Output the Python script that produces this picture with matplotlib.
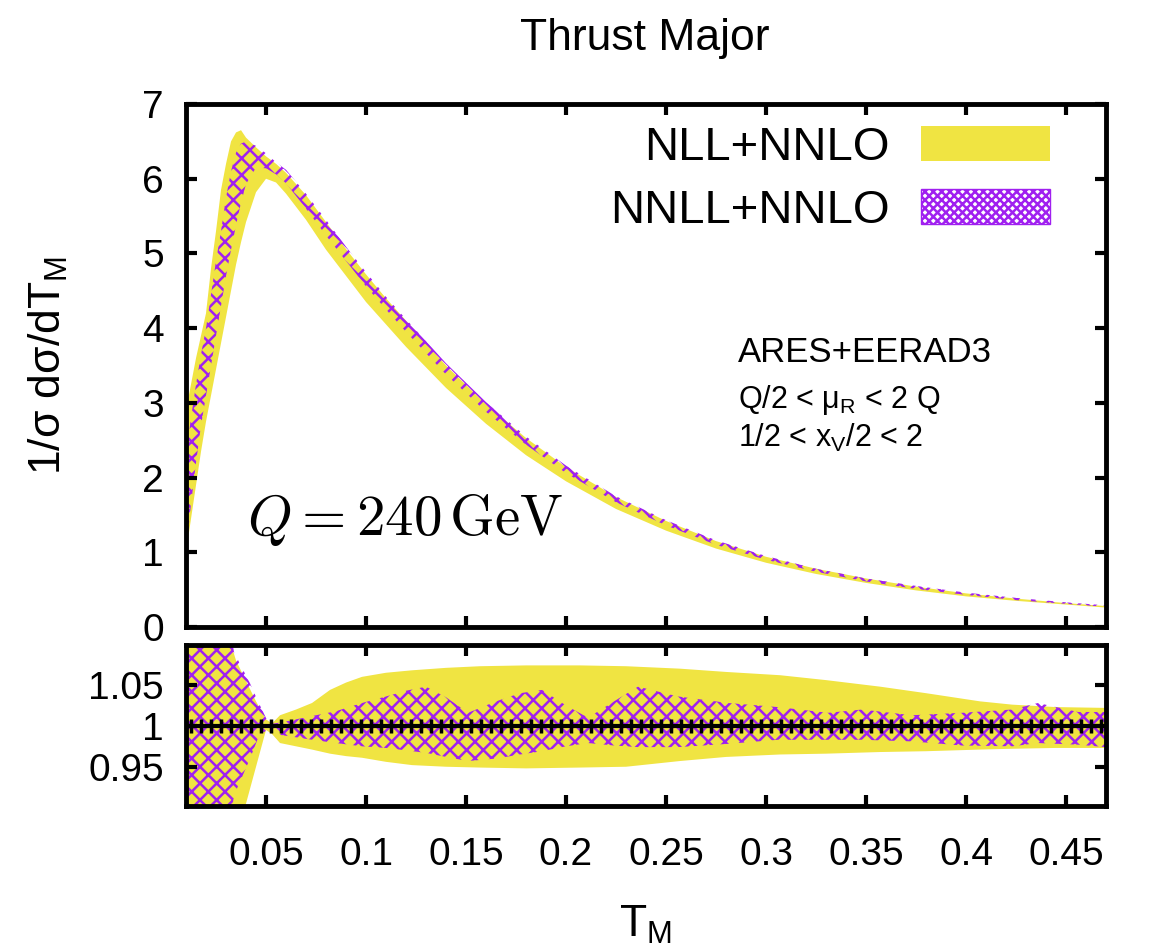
"""Thrust major distribution at Q = 240 GeV with NNLL/NLL bands and ratio panel."""

import numpy as np
import matplotlib

matplotlib.use("Agg")

import matplotlib.pyplot as plt  # noqa: E402
from matplotlib.patches import Patch  # noqa: E402

# ---- data ------------------------------------------------------------------
tm = [0.010, 0.0125, 0.015, 0.0175, 0.020, 0.0225, 0.025, 0.0275, 0.030,
      0.0325, 0.035, 0.0375, 0.040, 0.045, 0.050, 0.055, 0.060, 0.070,
      0.080, 0.090, 0.100, 0.110, 0.120, 0.140, 0.160, 0.180, 0.200,
      0.225, 0.250, 0.275, 0.300, 0.325, 0.350, 0.375, 0.400, 0.425,
      0.450, 0.470]
nll_hi = [2.9, 3.25, 3.6, 3.9, 4.2, 4.8, 5.3, 5.85, 6.2, 6.5, 6.62, 6.65,
          6.55, 6.42, 6.3, 6.2, 6.08, 5.78, 5.42, 5.06, 4.72, 4.4, 4.1, 3.5,
          2.98, 2.53, 2.14, 1.74, 1.42, 1.15, 0.94, 0.78, 0.65, 0.54, 0.45,
          0.38, 0.32, 0.28]
nll_lo = [1.0, 1.45, 1.9, 2.35, 2.75, 3.1, 3.45, 3.8, 4.15, 4.5, 4.85, 5.15,
          5.42, 5.82, 6.0, 5.95, 5.8, 5.45, 5.05, 4.7, 4.35, 4.05, 3.75, 3.2,
          2.72, 2.3, 1.95, 1.58, 1.29, 1.05, 0.86, 0.71, 0.59, 0.49, 0.41,
          0.35, 0.30, 0.26]
nnll_hi = [2.3, 2.8, 3.25, 3.65, 4.0, 4.45, 4.9, 5.3, 5.75, 6.1, 6.35, 6.47,
           6.5, 6.44, 6.34, 6.22, 6.12, 5.8, 5.45, 5.09, 4.75, 4.42, 4.12,
           3.53, 3.01, 2.55, 2.16, 1.75, 1.43, 1.16, 0.95, 0.78, 0.65, 0.55,
           0.46, 0.39, 0.33, 0.29]
nnll_lo = [1.0, 1.65, 2.2, 2.7, 3.1, 3.5, 3.9, 4.3, 4.7, 5.05, 5.38, 5.68,
           5.93, 6.15, 6.14, 6.06, 5.94, 5.6, 5.24, 4.9, 4.56, 4.25, 3.95,
           3.38, 2.88, 2.44, 2.06, 1.67, 1.36, 1.1, 0.9, 0.74, 0.61, 0.51,
           0.43, 0.36, 0.31, 0.27]

# ratio panel (normalised to NNLL+NNLO central value)
tm_nll_ratio = [0.010, 0.020, 0.030, 0.035, 0.040, 0.045, 0.050, 0.053,
                0.057, 0.065, 0.073, 0.082, 0.090, 0.098, 0.110, 0.123,
                0.140, 0.157, 0.180, 0.207, 0.230, 0.257, 0.280, 0.307,
                0.330, 0.357, 0.380, 0.407, 0.423, 0.445, 0.470]
nll_ratio_hi = [1.15, 1.15, 1.12, 1.08, 1.055, 1.03, 1.008, 1.003, 1.013,
                1.02, 1.028, 1.044, 1.053, 1.06, 1.065, 1.068, 1.071, 1.073,
                1.074, 1.074, 1.073, 1.07, 1.066, 1.062, 1.056, 1.048, 1.04,
                1.03, 1.026, 1.023, 1.022]
nll_ratio_lo = [0.85, 0.85, 0.87, 0.88, 0.905, 0.95, 0.995, 0.99, 0.979,
                0.975, 0.971, 0.966, 0.963, 0.961, 0.956, 0.952, 0.95, 0.949,
                0.948, 0.949, 0.95, 0.957, 0.962, 0.965, 0.966, 0.968, 0.969,
                0.971, 0.972, 0.973, 0.973]

tm_nnll_ratio = [0.010, 0.030, 0.034, 0.042, 0.046, 0.0515, 0.057, 0.065,
                 0.073, 0.085, 0.098, 0.110, 0.120, 0.130, 0.140, 0.151,
                 0.165, 0.177, 0.188, 0.200, 0.211, 0.224, 0.236, 0.256,
                 0.281, 0.306, 0.331, 0.348, 0.373, 0.398, 0.423, 0.436,
                 0.456, 0.470]
nnll_ratio_hi = [1.15, 1.15, 1.09, 1.052, 1.03, 1.002, 1.004, 1.008, 1.012,
                 1.018, 1.028, 1.036, 1.043, 1.048, 1.035, 1.016, 1.03, 1.04,
                 1.044, 1.025, 1.01, 1.03, 1.048, 1.036, 1.028, 1.023, 1.016,
                 1.02, 1.013, 1.016, 1.02, 1.028, 1.017, 1.017]
nnll_ratio_lo = [0.85, 0.85, 0.915, 0.96, 0.985, 0.998, 0.989, 0.986, 0.983,
                 0.979, 0.975, 0.973, 0.97, 0.967, 0.962, 0.957, 0.96, 0.965,
                 0.969, 0.975, 0.979, 0.976, 0.974, 0.974, 0.978, 0.983,
                 0.983, 0.983, 0.981, 0.976, 0.975, 0.979, 0.977, 0.974]

# reference points drawn on the ratio = 1 line (bin centres)
ratio_bins = np.arange(0.0125, 0.470, 0.005)
ratio_ref = np.ones_like(ratio_bins)

yticks_main = [0, 1, 2, 3, 4, 5, 6, 7]
yticks_ratio = [0.95, 1.0, 1.05]
yticklabels_ratio = ["0.95", "1", "1.05"]
xticks = [0.05, 0.10, 0.15, 0.20, 0.25, 0.30, 0.35, 0.40, 0.45]
xticklabels = ["0.05", "0.1", "0.15", "0.2", "0.25", "0.3", "0.35", "0.4",
               "0.45"]

YELLOW = "#F0E442"
PURPLE = "#A020F0"

plt.rcParams["font.family"] = ["Liberation Sans", "DejaVu Sans"]
plt.rcParams["hatch.linewidth"] = 1.8

fig = plt.figure(figsize=(11.49, 9.51), dpi=100)
ax = fig.add_axes([0.1619, 0.3407, 0.8007, 0.5499])
ax_r = fig.add_axes([0.1619, 0.1525, 0.8007, 0.1693], sharex=ax)

# main panel
ax.fill_between(tm, nll_lo, nll_hi, facecolor=YELLOW, edgecolor="none", lw=0)
ax.fill_between(tm, nnll_lo, nnll_hi, facecolor="none", edgecolor=PURPLE,
                hatch="xx", lw=0)

# ratio panel
ax_r.fill_between(tm_nll_ratio, nll_ratio_lo, nll_ratio_hi, facecolor=YELLOW,
                  edgecolor="none", lw=0)
ax_r.fill_between(tm_nnll_ratio, nnll_ratio_lo, nnll_ratio_hi,
                  facecolor="none", edgecolor=PURPLE, hatch="xx", lw=0)
ax_r.plot(ratio_bins, ratio_ref, color="black", lw=3, marker="|", ms=10,
          mew=2.5, zorder=3)

for a in (ax, ax_r):
    a.set_xlim(0.01, 0.47)
    a.tick_params(direction="in", top=True, right=True, length=8, width=3,
                  labelsize=28, pad=16)
    a.tick_params(axis="x", pad=22)
    for spine in a.spines.values():
        spine.set_linewidth(3.5)
    a.set_xticks(xticks)

ax.set_ylim(0, 7)
ax.set_yticks(yticks_main)
ax.tick_params(labelbottom=False)

ax_r.set_ylim(0.902, 1.099)
ax_r.set_yticks(yticks_ratio)
ax_r.set_yticklabels(yticklabels_ratio)
ax_r.set_xticklabels(xticklabels)

# legend
handles = [
    Patch(facecolor=YELLOW, edgecolor="none", label="NLL+NNLO"),
    Patch(facecolor="white", edgecolor=PURPLE, hatch="xxxx", lw=1,
          label="NNLL+NNLO"),
]
ax.legend(handles=handles, loc="upper right", bbox_to_anchor=(0.939, 0.958),
          frameon=False, fontsize=34, markerfirst=False, handlelength=2.72,
          handleheight=0.77, handletextpad=0.67, labelspacing=0.4,
          borderpad=0, borderaxespad=0)

# annotations
ax.text(0.60, 0.507, "ARES+EERAD3", transform=ax.transAxes, fontsize=25,
        va="baseline")
ax.text(0.60, 0.419, r"Q/2 < μ$_\mathregular{R}$ < 2 Q",
        transform=ax.transAxes, fontsize=22, va="baseline")
ax.text(0.60, 0.344, r"1/2 < x$_\mathregular{V}$/2 < 2",
        transform=ax.transAxes, fontsize=22, va="baseline")
ax.text(0.066, 0.176, r"$Q = 240\,\mathrm{GeV}$", transform=ax.transAxes,
        fontsize=41, va="baseline", math_fontfamily="cm")

fig.text(0.5614, 0.96, "Thrust Major", ha="center", va="center", fontsize=32)
fig.text(0.5614, 0.0273, r"T$_\mathregular{M}$", ha="center", va="center",
         fontsize=32)
fig.text(0.0418, 0.616, r"1/σ dσ/dT$_\mathregular{M}$", ha="center",
         va="center", rotation=90, fontsize=32)

fig.savefig("out.png", dpi=100, facecolor="white")
